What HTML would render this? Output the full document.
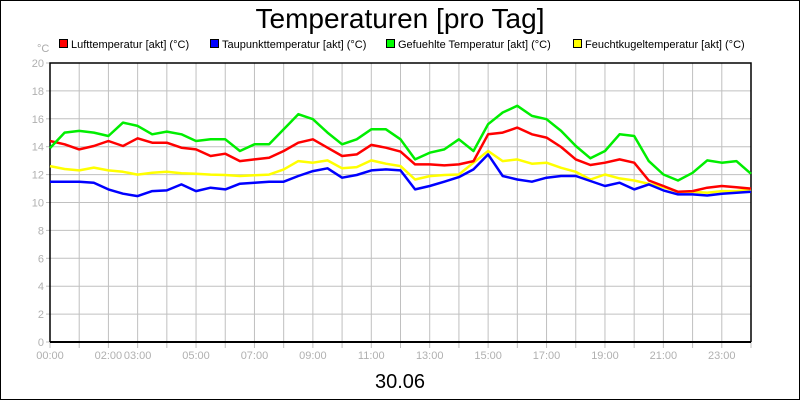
<!DOCTYPE html>
<html><head><meta charset="utf-8"><style>
html,body{margin:0;padding:0;background:#fff}
svg{display:block;font-family:"Liberation Sans",sans-serif}
</style></head><body>
<svg id="chart" width="800" height="400" viewBox="0 0 800 400">
<rect x="0.5" y="0.5" width="799" height="399" fill="#fff" stroke="#000"/>
<text x="400" y="28" font-size="28" text-anchor="middle" fill="#000">Temperaturen [pro Tag]</text>
<g font-size="11" fill="#000">
<g><rect x="59.5" y="39.5" width="8" height="8" fill="#f00" stroke="#000"/><text x="71" y="48">Lufttemperatur [akt] (°C)</text></g>
<g><rect x="210.5" y="39.5" width="8" height="8" fill="#00f" stroke="#000"/><text x="222" y="48">Taupunkttemperatur [akt] (°C)</text></g>
<g><rect x="386.5" y="39.5" width="8" height="8" fill="#0f0" stroke="#000"/><text x="398" y="48">Gefuehlte Temperatur [akt] (°C)</text></g>
<g><rect x="573.5" y="39.5" width="8" height="8" fill="#ff0" stroke="#000"/><text x="585" y="48">Feuchtkugeltemperatur [akt] (°C)</text></g>
</g>
<text x="37" y="52" font-size="11" fill="#aaa">°C</text>
<g id="grid"></g>
<g id="axes"></g>
<g id="series"></g>
<text x="400" y="388" font-size="20" text-anchor="middle" fill="#000">30.06</text>
</svg>
<script>
const hours = [0,0.5,1,1.5,2,2.5,3,3.5,4,4.5,5,5.5,6,6.5,7,7.5,8,8.5,9,9.5,10,10.5,11,11.5,12,12.5,13,13.5,14,14.5,15,15.5,16,16.5,17,17.5,18,18.5,19,19.5,20,20.5,21,21.5,22,22.5,23,23.5,24];
const luft = [14.41,14.17,13.81,14.05,14.41,14.05,14.6,14.29,14.29,13.93,13.81,13.33,13.5,12.97,13.09,13.21,13.69,14.29,14.53,13.93,13.33,13.45,14.13,13.93,13.65,12.73,12.73,12.66,12.73,12.97,14.89,15.01,15.37,14.89,14.65,13.98,13.09,12.69,12.85,13.09,12.85,11.58,11.18,10.77,10.82,11.06,11.18,11.1,11.0];
const taupunkt = [11.49,11.49,11.49,11.42,10.94,10.63,10.46,10.82,10.87,11.3,10.82,11.06,10.94,11.35,11.42,11.49,11.49,11.9,12.25,12.45,11.78,11.97,12.3,12.37,12.3,10.94,11.18,11.49,11.82,12.37,13.45,11.9,11.65,11.49,11.78,11.9,11.9,11.54,11.18,11.42,10.94,11.3,10.87,10.58,10.58,10.5,10.63,10.7,10.77];
const gefuehlt = [13.9,15.01,15.13,15.01,14.77,15.73,15.49,14.89,15.08,14.89,14.41,14.53,14.53,13.69,14.17,14.17,15.25,16.33,15.97,15.01,14.17,14.53,15.25,15.25,14.53,13.09,13.57,13.81,14.53,13.69,15.61,16.45,16.93,16.21,15.97,15.13,14.05,13.17,13.69,14.89,14.77,12.97,12.01,11.58,12.13,13.02,12.85,12.97,12.06];
const feucht = [12.61,12.4,12.3,12.5,12.3,12.2,12.0,12.13,12.2,12.1,12.06,12.0,11.97,11.9,11.95,12.0,12.37,12.97,12.85,13.02,12.45,12.54,13.02,12.78,12.61,11.65,11.89,11.97,12.01,12.85,13.69,12.97,13.09,12.78,12.85,12.49,12.2,11.65,12.01,11.73,11.58,11.34,11.1,10.77,10.77,10.7,10.82,10.82,10.94];
const yTicks = [0,2,4,6,8,10,12,14,16,18,20];
const xTickHours = [0,2,3,5,7,9,11,13,15,17,19,21,23];
const xTickLabels = ["00:00","02:00","03:00","05:00","07:00","09:00","11:00","13:00","15:00","17:00","19:00","21:00","23:00"];

const X0=50,X1=751,Y0=342,Y1=63;
const xs=h=>X0+(X1-X0)*h/24;
const ys=v=>Y0-(Y0-Y1)*v/20;
const NS="http://www.w3.org/2000/svg";
function mk(tag,parent,attrs){const e=document.createElementNS(NS,tag);for(const k in attrs)e.setAttribute(k,attrs[k]);parent.appendChild(e);return e;}
const grid=document.getElementById('grid'),axes=document.getElementById('axes'),series=document.getElementById('series');
for(let h=1;h<24;h++){
  const l=mk('line',grid,{x1:xs(h),x2:xs(h),y1:Y1,y2:Y0+6,stroke:'#c0c0c0','stroke-width':1});
  
  
}
mk('line',grid,{x1:X0,x2:X0,y1:Y0,y2:Y0+6,stroke:'#c0c0c0'});
mk('line',grid,{x1:X1,x2:X1,y1:Y0,y2:Y0+6,stroke:'#c0c0c0'});
yTicks.forEach(v=>{
  if(v>0&&v<20){const l=mk('line',grid,{x1:X0,x2:X1,y1:ys(v),y2:ys(v),stroke:'#c0c0c0'});
  
  }
  mk('line',grid,{x1:X0-4,x2:X0,y1:ys(v),y2:ys(v),stroke:'#c0c0c0'});
  const t=mk('text',axes,{x:X0-6,y:ys(v)+4,'font-size':11,'text-anchor':'end',fill:'#b0b0b0'});
  t.textContent=v;
  
  
});
xTickHours.forEach((h,i)=>{
  const t=mk('text',axes,{x:xs(h),y:Y0+17,'font-size':11,'text-anchor':'middle',fill:'#b0b0b0'});
  t.textContent=xTickLabels[i];
  
  
});
mk('polyline',axes,{points:`${X0},${Y0} ${X0},${Y1} ${X1},${Y1} ${X1},${Y0}`,fill:'none',stroke:'#000','stroke-width':1.5});
mk('line',axes,{x1:X0,x2:X1,y1:Y0,y2:Y0,stroke:'#000','stroke-width':2});
const defs=[[feucht,'#ffff00','line-feuchtkugeltemperatur'],[taupunkt,'#0000ff','line-taupunkttemperatur'],[luft,'#ff0000','line-lufttemperatur'],[gefuehlt,'#00ee00','line-gefuehlte-temperatur']];
defs.forEach(([arr,col,name])=>{
  const p=mk('polyline',series,{points:arr.map((v,i)=>xs(hours[i]).toFixed(1)+','+ys(v).toFixed(1)).join(' '),fill:'none',stroke:col,'stroke-width':2.5,'stroke-linejoin':'round'});
  
  
});
</script>
</body></html>
